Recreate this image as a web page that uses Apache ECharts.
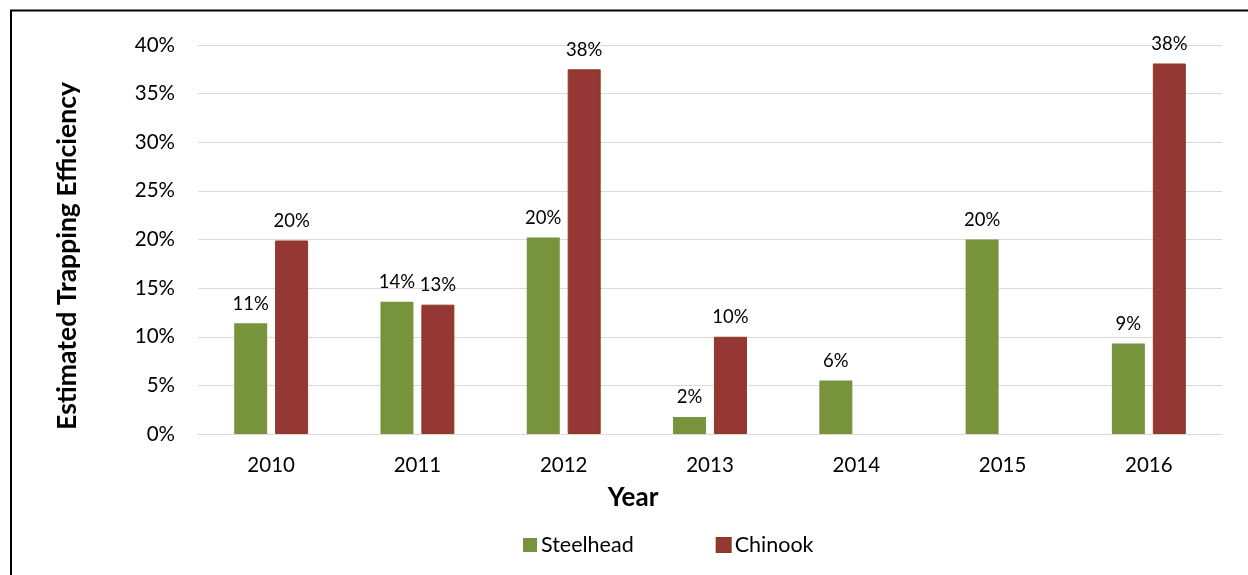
<!DOCTYPE html>
<html>
<head>
<meta charset="utf-8">
<script src="https://cdn.jsdelivr.net/npm/echarts@6/dist/echarts.min.js"></script>
<style>
html,body{margin:0;padding:0;background:#fff;}
#chart{width:1248px;height:575px;}
</style>
</head>
<body>
<div id="chart"></div>
<script>
const years = ['2010','2011','2012','2013','2014','2015','2016'];
const steelhead = [11.4, 13.6, 20.2, 1.75, 5.5, 20.0, 9.3];
const chinook = [19.9, 13.3, 37.5, 10.0, null, null, 38.1];
const yTicks = [0, 5, 10, 15, 20, 25, 30, 35, 40];

const FONT = 'Lato';
const chart = echarts.init(document.getElementById('chart'), null, {renderer: 'canvas'});

const labelOpt = {
  show: true,
  position: 'top',
  distance: 10,
  color: '#000',
  fontFamily: FONT,
  fontSize: 18.5,
  formatter: p => Math.round(p.value) + '%'
};

chart.setOption({
  animation: false,
  backgroundColor: '#fff',
  grid: {left: 198, right: 26, top: 45, bottom: 141, containLabel: false},
  legend: {
    data: ['Steelhead', 'Chinook'],
    left: 523,
    top: 534,
    padding: 0,
    itemWidth: 14,
    itemHeight: 14,
    itemGap: 82,
    icon: 'rect',
    textStyle: {fontFamily: FONT, fontSize: 21.5, color: '#000', padding: [0, 0, 0, -1]}
  },
  xAxis: {
    type: 'category',
    data: years,
    axisLine: {show: true, lineStyle: {color: '#d9d9d9', width: 1}},
    axisTick: {show: false},
    axisLabel: {fontFamily: FONT, fontSize: 20.5, color: '#000', margin: 21}
  },
  yAxis: {
    type: 'value',
    min: 0,
    max: 40,
    interval: 5,
    axisLine: {show: false},
    axisTick: {show: false},
    splitLine: {lineStyle: {color: '#d9d9d9', width: 1}},
    axisLabel: {
      fontFamily: FONT, fontSize: 20.5, color: '#000', margin: 23,
      formatter: v => yTicks.includes(v) ? v + '%' : ''
    }
  },
  series: [
    {
      name: 'Steelhead',
      type: 'bar',
      data: steelhead,
      barWidth: 33,
      barGap: '24%',
      itemStyle: {color: '#77933c'},
      label: labelOpt
    },
    {
      name: 'Chinook',
      type: 'bar',
      data: chinook,
      barWidth: 33,
      itemStyle: {color: '#953735', borderColor: '#8c3c1c', borderWidth: 1},
      label: labelOpt
    }
  ],
  graphic: [
    {type: 'text', x: 67, y: 256, rotation: Math.PI / 2,
     style: {text: 'Estimated Trapping Efficiency', fontFamily: FONT, fontSize: 26.5, fontWeight: 'bold',
             fill: '#000', align: 'center', verticalAlign: 'middle'}},
    {type: 'text', x: 633, y: 498,
     style: {text: 'Year', fontFamily: FONT, fontSize: 26, fontWeight: 'bold', fill: '#000',
             align: 'center', verticalAlign: 'middle'}},
    {type: 'line', shape: {x1: 10, y1: 10.5, x2: 1248, y2: 10.5}, style: {stroke: '#000', lineWidth: 2}},
    {type: 'line', shape: {x1: 11, y1: 10, x2: 11, y2: 575}, style: {stroke: '#000', lineWidth: 2}}
  ]
});
</script>
</body>
</html>
